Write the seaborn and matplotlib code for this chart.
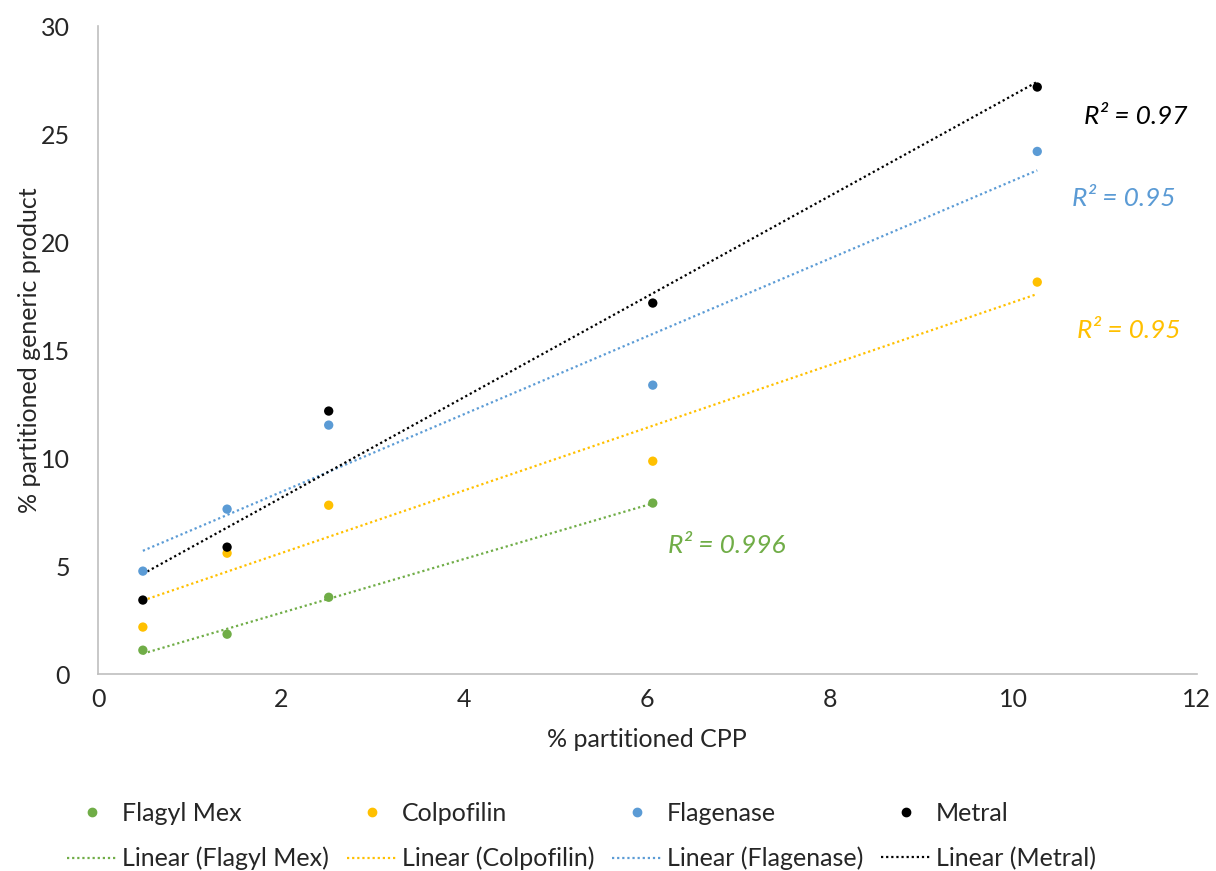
import numpy as np
import pandas as pd
import seaborn as sns
import matplotlib.pyplot as plt

# values
cpp = [0.49, 1.41, 2.52, 6.06, 10.26]
flagyl_mex = [1.11, 1.85, 3.56, 7.92]
colpofilin = [2.18, 5.60, 7.82, 9.86, 18.15]
flagenase = [4.77, 7.64, 11.53, 13.38, 24.20]
metral = [3.43, 5.88, 12.18, 17.18, 27.18]
series_names = ["Flagyl Mex", "Colpofilin", "Flagenase", "Metral"]
r2_labels = ["R² = 0.996", "R² = 0.95", "R² = 0.95", "R² = 0.97"]

colors = ["#70AD47", "#FFC000", "#5B9BD5", "#000000"]
r2_pos = [(6.23, 5.97), (10.69, 15.9), (10.64, 22.0), (10.77, 25.8)]

sns.set_theme(style="white")
plt.rcParams['font.family'] = ['Lato', 'DejaVu Sans']

fig = plt.figure(figsize=(12.16, 8.71), dpi=100)
ax = fig.add_axes([0.0806, 0.226, 0.9034, 0.744])

all_y = [flagyl_mex, colpofilin, flagenase, metral]
handles = []
for name, ys, col, lab, pos in zip(series_names, all_y, colors, r2_labels, r2_pos):
    df = pd.DataFrame({"x": cpp[:len(ys)], "y": ys})
    sns.scatterplot(data=df, x="x", y="y", color=col, s=45, edgecolor="none", ax=ax, zorder=3)
    sns.regplot(data=df, x="x", y="y", scatter=False, ci=None, truncate=True, ax=ax,
                line_kws=dict(color=col, linestyle=(0, (1, 1.3)), linewidth=1.6))
    ax.text(pos[0], pos[1], lab, color=col, fontsize=19, style="italic", va="center", ha="left")
    handles.append(plt.Line2D([], [], color=col, marker="o", linestyle="none", markersize=6, label=name))
    handles.append(plt.Line2D([], [], color=col, linestyle=(0, (1, 1.3)), linewidth=1.6, label=f"Linear ({name})"))

ax.set_xlim(0, 12)
ax.set_ylim(0, 30)
ax.set_xticks(range(0, 13, 2))
ax.set_yticks(range(0, 31, 5))
ax.tick_params(labelsize=18, length=0)
ax.tick_params(axis="y", pad=20)
ax.tick_params(axis="x", pad=10)
ax.set_xlabel("% partitioned CPP", fontsize=18, labelpad=12)
ax.set_ylabel("% partitioned generic product", fontsize=18, labelpad=0)
for s in ["top", "right"]:
    ax.spines[s].set_visible(False)
for s in ["left", "bottom"]:
    ax.spines[s].set_color("#BFBFBF")
    ax.spines[s].set_linewidth(1.2)

fig.legend(handles=handles, ncol=4, loc="lower left", bbox_to_anchor=(0.037, -0.025),
           frameon=False, fontsize=18, handlelength=2.0, handletextpad=0.2,
           columnspacing=0.7, labelspacing=0.86)

fig.savefig("out.png", dpi=100)
